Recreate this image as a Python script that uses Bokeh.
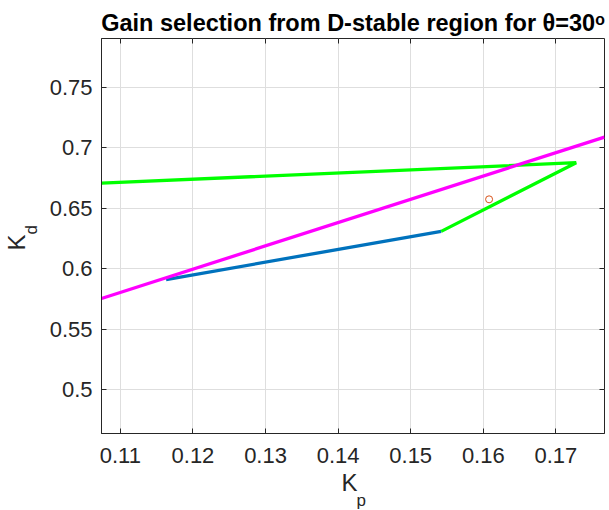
from bokeh.plotting import figure
from bokeh.models import (Range1d, FixedTicker, CustomJSTickFormatter,
                          LinearAxis, Title)
from bokeh.embed import file_html
from bokeh.resources import INLINE

# ---- data ----
green_kp = [0.1074, 0.1728, 0.1542]
green_kd = [0.6708, 0.6877, 0.6309]
blue_kp = [0.1163, 0.1542]
blue_kd = [0.5910, 0.6309]
magenta_kp = [0.1074, 0.1767]
magenta_kd = [0.5753, 0.7089]
point_kp = [0.1608]
point_kd = [0.6574]

x_ticks = [0.11, 0.12, 0.13, 0.14, 0.15, 0.16, 0.17]
y_ticks = [0.5, 0.55, 0.6, 0.65, 0.7, 0.75]
x_lim = (0.1074, 0.1767)
y_lim = (0.4636, 0.7905)

title_text = "Gain selection from D-stable region for θ=30ᵒ"

FONT = "Liberation Sans"
TXT = "#262626"

p = figure(frame_width=503, frame_height=395, output_backend="svg",
           toolbar_location=None,
           x_range=Range1d(*x_lim), y_range=Range1d(*y_lim),
           min_border_left=101, min_border_right=5, min_border_top=38,
           min_border_bottom=77, title=None)

p.background_fill_color = "white"
p.border_fill_color = "white"
p.outline_line_color = TXT
p.outline_line_width = 1

fmt = CustomJSTickFormatter(code="return tick.toString();")
for ax, ticks in ((p.xaxis[0], x_ticks), (p.yaxis[0], y_ticks)):
    ax.ticker = FixedTicker(ticks=ticks)
    ax.formatter = fmt
    ax.major_tick_in = 5
    ax.major_tick_out = 0
    ax.minor_tick_line_color = None
    ax.axis_line_color = TXT
    ax.major_tick_line_color = TXT
    ax.major_label_text_font = FONT
    ax.major_label_text_font_size = "22px"
    ax.major_label_text_color = TXT
p.xaxis[0].major_label_standoff = 14
p.yaxis[0].major_label_standoff = 9

# mirrored ticks on top and right
for loc, ticks in (("above", x_ticks), ("right", y_ticks)):
    ax = LinearAxis(ticker=FixedTicker(ticks=ticks), major_label_text_font_size="1px",
                    major_label_text_color=None,
                    major_label_standoff=0, major_tick_in=5, major_tick_out=0,
                    minor_tick_line_color=None, axis_line_color=None,
                    major_tick_line_color=TXT)
    p.add_layout(ax, loc)

p.xgrid.ticker = FixedTicker(ticks=x_ticks)
p.ygrid.ticker = FixedTicker(ticks=y_ticks)
p.grid.grid_line_color = "#DEDEDE"
p.grid.grid_line_width = 1

p.line(blue_kp, blue_kd, line_color="#0072BD", line_width=3.3)
p.line(green_kp, green_kd, line_color="#00FF00", line_width=3.3)
p.line(magenta_kp, magenta_kd, line_color="#FF00FF", line_width=3.3)
p.scatter(point_kp, point_kd, marker="circle", size=7, fill_color=None,
          line_color="#D95319", line_width=1)

# title
p.add_layout(Title(text=title_text, text_font=FONT, text_font_size="23.5px",
                   text_font_style="bold", text_color="black", align="center",
                   standoff=6), "above")

# axis labels with subscripts, as side-panel titles
def side_text(text, place, size, offset, standoff, valign):
    p.add_layout(Title(text=text, text_font=FONT, text_font_size=size,
                       text_font_style="normal", text_color=TXT,
                       align="left", offset=offset, standoff=standoff,
                       vertical_align=valign), place)

side_text("K", "below", "24px", 240, 7.2, "top")
side_text("p", "below", "17px", 255, -20.4, "top")
side_text("d", "left", "17px", 199, 11, "bottom")
side_text("K", "left", "24px", 183, -31.6, "bottom")

open("out.html", "w").write(file_html(p, INLINE))
